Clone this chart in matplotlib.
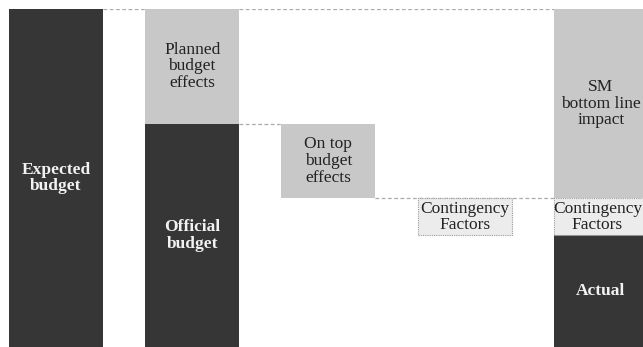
import matplotlib
matplotlib.use("Agg")
import matplotlib.pyplot as plt

# Budget bridge (share of expected budget, %)
steps = ["Expected budget", "Planned budget effects", "On top budget effects",
         "Contingency Factors", "SM bottom line"]
expected = 100
planned_effects = 34
on_top_effects = 22
contingency = 11
official = expected - planned_effects
actual = official - on_top_effects - contingency
sm_impact = planned_effects + on_top_effects

DARK = "#363636"
MID = "#c8c8c8"
LIGHT = "#ececec"
EDGE = "#9a9a9a"

plt.rcParams["font.family"] = ["Liberation Serif", "DejaVu Serif"]

fig = plt.figure(figsize=(6.43, 3.47), dpi=100)
ax = fig.add_axes([0, 0, 1, 338 / 347])
step_px = 136.2
x0_px = 56
ax.set_xlim(-x0_px / step_px, (643 - x0_px) / step_px)
ax.set_ylim(0, 100)
ax.axis("off")

w = 94 / step_px
x = list(range(len(steps)))

# column 0: expected budget
ax.bar(x[0], expected, width=w, color=DARK, zorder=2)
# column 1: official budget + planned effects
ax.bar(x[1], official, width=w, color=DARK, zorder=2)
ax.bar(x[1], planned_effects, bottom=official, width=w, color=MID, zorder=2)
# column 2: on-top effects (floating)
ax.bar(x[2], on_top_effects, bottom=official - on_top_effects, width=w, color=MID, zorder=2)
# column 3: contingency (floating)
cont_bottom = official - on_top_effects - contingency
ax.bar(x[3], contingency, bottom=cont_bottom, width=w, color=LIGHT,
       edgecolor=EDGE, linestyle=(0, (1, 1)), linewidth=0.8, zorder=3)
# column 4: actual + contingency + SM bottom line impact
ax.bar(x[4], actual, width=w, color=DARK, zorder=2)
ax.bar(x[4], contingency, bottom=actual, width=w, color=LIGHT,
       edgecolor=EDGE, linestyle=(0, (1, 1)), linewidth=0.8, zorder=3)
ax.bar(x[4], sm_impact, bottom=actual + contingency, width=w, color=MID, zorder=2)

# connector lines
dash = dict(color="#aaaaaa", linestyle=(0, (3, 2)), linewidth=0.9, zorder=1)
h = w / 2
ax.plot([x[0] + h, x[1] - h], [expected, expected], **dash)
ax.plot([x[1] + h, x[4] - h], [expected, expected], **dash)
ax.plot([x[1] + h, x[2] - h], [official, official], **dash)
ax.plot([x[2] + h, x[4] - h], [official - on_top_effects] * 2, **dash)

fs = 12.5
dark_txt = dict(ha="center", va="center", fontsize=fs, color="#222222",
                linespacing=1.05, zorder=4)
bold_txt = dict(ha="center", va="center", fontsize=fs, color="#f2f2f2",
                fontweight="bold", linespacing=1.05, zorder=4)

ax.text(x[0], expected / 2, "Expected\nbudget", **bold_txt)
ax.text(x[1], official / 2, "Official\nbudget", **bold_txt)
ax.text(x[1], official + planned_effects / 2, "Planned\nbudget\neffects", **dark_txt)
ax.text(x[2], official - on_top_effects / 2, "On top\nbudget\neffects", **dark_txt)
ax.text(x[3], cont_bottom + contingency / 2, "Contingency\nFactors", **dark_txt)
ax.text(x[4], actual / 2, "Actual", **bold_txt)
# the last column runs off the right edge; keep its label inside the figure
ax.text(x[4] - 0.025, actual + contingency / 2, "Contingency\nFactors", **dark_txt)
ax.text(x[4], actual + contingency + sm_impact / 2, "SM\nbottom line\nimpact", **dark_txt)

fig.savefig("out.png", dpi=100, facecolor="white")
